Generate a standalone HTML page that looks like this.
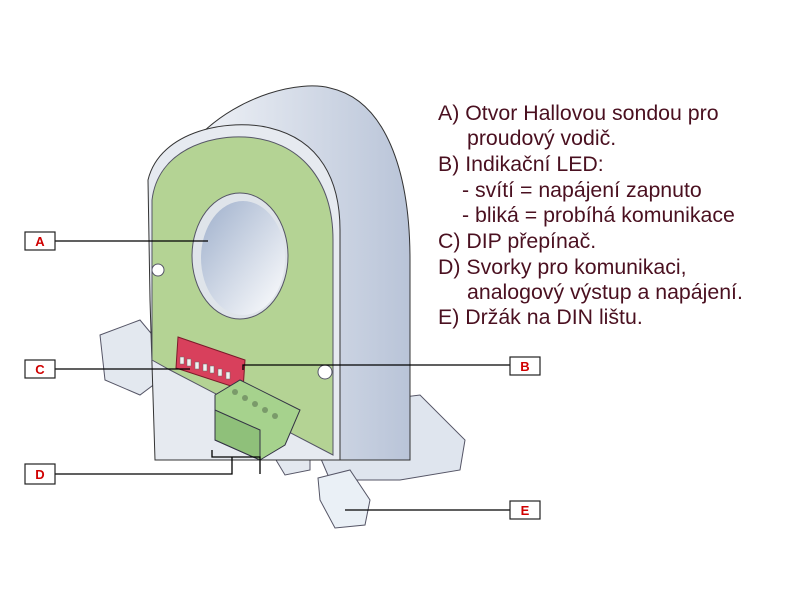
<!DOCTYPE html>
<html><head><meta charset="utf-8"><style>
html,body{margin:0;padding:0;background:#fff;width:800px;height:600px;overflow:hidden}
svg{display:block}
text{font-family:"Liberation Sans",sans-serif}
</style></head><body>
<svg width="800" height="600" viewBox="0 0 800 600">
<defs>
<linearGradient id="g" x1="0" x2="1"><stop offset="0" stop-color="#eef1f6"/><stop offset="1" stop-color="#b9c4d8"/></linearGradient>
<linearGradient id="h" x1="0" y1="0" x2="1" y2="1"><stop offset="0" stop-color="#9fb0cc"/><stop offset="1" stop-color="#ffffff"/></linearGradient>
</defs>
<!-- base -->
<polygon points="300,410 420,395 465,440 460,470 400,480 330,480" fill="#dfe5ee" stroke="#556" stroke-width="1"/>
<polygon points="100,335 140,320 165,350 160,380 140,395 105,380" fill="#e3e8ef" stroke="#556"/>
<polygon points="180,400 230,390 250,420 205,420" fill="#e3e8ef" stroke="#556"/>
<polygon points="270,450 310,440 310,470 285,475" fill="#e3e8ef" stroke="#556"/>
<polygon points="318,478 350,470 370,500 365,525 335,528 320,500" fill="#eaf0f6" stroke="#556"/>
<!-- back ring body -->
<path d="M200,135 C240,95 300,80 330,88 C385,100 410,170 410,260 L410,460 L330,460 L330,300 Z" fill="url(#g)" stroke="#333" stroke-width="1"/>
<path d="M148,180 C160,130 230,118 270,128 C320,140 340,180 340,230 L340,460 L155,460 L150,300 Z" fill="#e6eaf0" stroke="#333"/>
<!-- green face -->
<path d="M152,200 C158,150 210,135 245,137 C300,140 333,180 333,240 L333,455 L170,370 L152,360 Z" fill="#b4d394" stroke="#556" stroke-width="1"/>
<ellipse cx="240" cy="256" rx="48" ry="63" fill="#dfe4ea" stroke="#556"/>
<ellipse cx="243" cy="258" rx="42" ry="57" fill="url(#h)"/>
<circle cx="158" cy="270" r="6" fill="#fff" stroke="#556"/>
<circle cx="325" cy="372" r="7" fill="#fff" stroke="#556"/>
<!-- DIP switch -->
<polygon points="178,337 245,360 243,390 176,368" fill="#d8405c" stroke="#7a1a2a"/>
<g fill="#f0f0f0" stroke="#666" stroke-width=".5">
<rect x="180" y="357" width="4" height="7"/><rect x="187" y="359" width="4" height="7"/><rect x="195" y="362" width="4" height="7"/><rect x="203" y="364" width="4" height="7"/><rect x="210" y="366" width="4" height="7"/><rect x="218" y="369" width="4" height="7"/><rect x="226" y="372" width="4" height="7"/></g>
<!-- terminal block -->
<polygon points="215,395 240,380 300,410 285,445 260,460 215,440" fill="#a6d28d" stroke="#334"/>
<polygon points="215,410 260,430 260,460 215,440" fill="#8fc07a" stroke="#334"/>
<g fill="#7a9a6a"><circle cx="235" cy="392" r="3"/><circle cx="245" cy="398" r="3"/><circle cx="255" cy="404" r="3"/><circle cx="265" cy="410" r="3"/><circle cx="275" cy="416" r="3"/></g>
<!-- leaders -->
<g stroke="#000" stroke-width="1.3" fill="none">
<line x1="55" y1="241" x2="208" y2="241"/>
<line x1="55" y1="369" x2="190" y2="369"/>
<polyline points="55,474 232,474 232,457"/>
<polyline points="212,450 212,457 260,457 260,474"/>
<polyline points="243,370 243,365 510,365"/>
<line x1="345" y1="510" x2="510" y2="510"/>
</g>
<g stroke="#222" stroke-width="1.2" fill="#fff">
<rect x="25" y="232" width="30" height="18"/><rect x="25" y="360" width="30" height="18"/><rect x="25" y="464" width="30" height="20"/>
<rect x="510" y="357" width="30" height="18"/><rect x="510" y="501" width="30" height="18"/></g>
<g fill="#d00000" font-weight="bold" font-size="13" text-anchor="middle">
<text x="40" y="246">A</text><text x="40" y="374">C</text><text x="40" y="479">D</text><text x="525" y="371">B</text><text x="525" y="515">E</text></g>
<g fill="#4a1020" font-size="21.3">
<text x="438" y="120">A) Otvor Hallovou sondou pro</text>
<text x="467" y="145">proudový vodič.</text>
<text x="438" y="171">B) Indikační LED:</text>
<text x="462" y="197">- svítí = napájení zapnuto</text>
<text x="462" y="222">- bliká = probíhá komunikace</text>
<text x="438" y="248">C) DIP přepínač.</text>
<text x="438" y="274">D) Svorky pro komunikaci,</text>
<text x="467" y="299">analogový výstup a napájení.</text>
<text x="438" y="324">E) Držák na DIN lištu.</text>
</g>
</svg>
</body></html>
